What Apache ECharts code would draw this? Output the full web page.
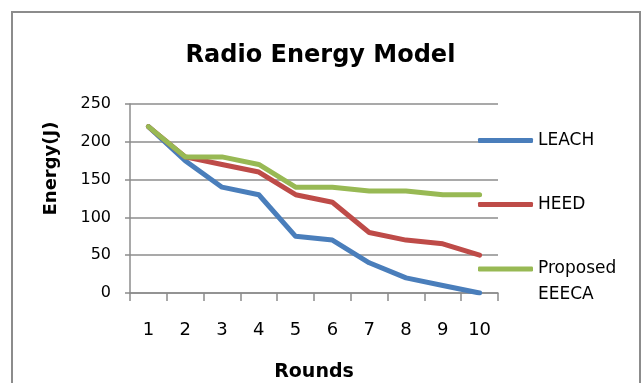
<!DOCTYPE html>
<html>
<head>
<meta charset="utf-8">
<script src="https://cdn.jsdelivr.net/npm/echarts@6/dist/echarts.min.js"></script>
<style>
  html, body { margin: 0; padding: 0; background: #fff; }
  #chart { width: 641px; height: 383px; }
</style>
</head>
<body>
<div id="chart"></div>
<script>
const rounds = ['1', '2', '3', '4', '5', '6', '7', '8', '9', '10']
const leach = [220, 175, 140, 130, 75, 70, 40, 20, 10, 0]
const heed = [220, 180, 170, 160, 130, 120, 80, 70, 65, 50]
const eeeca = [220, 180, 180, 170, 140, 140, 135, 135, 130, 130]
const yTicks = [0, 50, 100, 150, 200, 250]

const FONT = 'DejaVu Sans'
const GRAY = '#8c8c8c'

const chart = echarts.init(document.getElementById('chart'))

function initSeries(name, data, color) {
  return {
    name,
    data,
    type: 'line',
    showSymbol: false,
    symbol: 'none',
    lineStyle: { width: 5, color, cap: 'round', join: 'round' },
    itemStyle: { color }
  }
}

function legendAt(name, top, extra) {
  return Object.assign({
    data: [name],
    orient: 'vertical',
    left: 478,
    top,
    icon: 'roundRect',
    itemWidth: 55,
    itemHeight: 5,
    itemGap: 0,
    padding: 0,
    textStyle: { fontFamily: FONT, fontSize: 17, color: '#000' }
  }, extra || {})
}

const option = {
  animation: false,
  title: {
    text: 'Radio Energy Model',
    left: 'center',
    top: 39,
    textStyle: { fontFamily: FONT, fontSize: 24, fontWeight: 'bold', color: '#000' }
  },
  graphic: [{
    type: 'rect',
    shape: { x: 12, y: 12, width: 628, height: 400 },
    style: { fill: null, stroke: GRAY, lineWidth: 2 },
    silent: true
  }],
  legend: [
    legendAt('LEACH', 132),
    legendAt('HEED', 196),
    // blank first line keeps "Proposed" level with the line sample
    legendAt('Proposed EEECA', 230, {
      formatter: '\nProposed\nEEECA',
      textStyle: { fontFamily: FONT, fontSize: 17, color: '#000', lineHeight: 26 }
    })
  ],
  grid: { left: 130, right: 143, top: 104, bottom: 90, outerBoundsMode: 'none' },
  xAxis: {
    type: 'category',
    data: rounds,
    boundaryGap: true,
    name: 'Rounds',
    nameLocation: 'middle',
    nameGap: 70,
    nameTextStyle: { fontFamily: FONT, fontSize: 19, fontWeight: 'bold', color: '#000' },
    axisLine: { lineStyle: { color: GRAY, width: 1.5 } },
    axisTick: { show: true, length: 8, lineStyle: { color: GRAY, width: 1.5 } },
    axisLabel: { fontFamily: FONT, fontSize: 18, color: '#000', margin: 28 }
  },
  yAxis: {
    type: 'value',
    min: yTicks[0],
    max: yTicks[yTicks.length - 1],
    interval: 50,
    name: 'Energy(J)',
    nameLocation: 'middle',
    nameGap: 70,
    nameTextStyle: { fontFamily: FONT, fontSize: 18, fontWeight: 'bold', color: '#000', padding: [0, 0, 0, 60] },
    axisLine: { show: true, lineStyle: { color: GRAY, width: 1.5 } },
    axisTick: { show: true, length: 5, lineStyle: { color: GRAY, width: 1.5 } },
    axisLabel: { fontFamily: FONT, fontSize: 16, color: '#000', margin: 19 },
    splitLine: { lineStyle: { color: GRAY, width: 1.5 } }
  },
  series: [
    initSeries('LEACH', leach, '#4a7ebb'),
    initSeries('HEED', heed, '#be4b48'),
    initSeries('Proposed EEECA', eeeca, '#98b954')
  ]
}

chart.setOption(option)
</script>
</body>
</html>
